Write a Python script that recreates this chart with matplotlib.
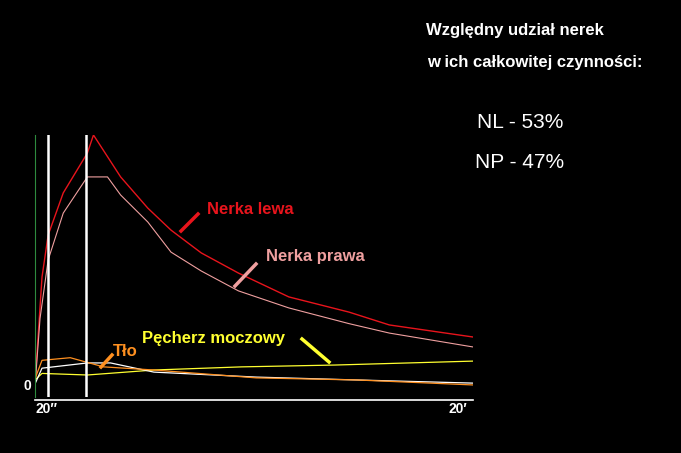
import matplotlib.pyplot as plt

W, H = 681, 453

# time in minutes, counts in arbitrary units
t_lewa = [0, 0.32, 0.6, 1.29, 2.39, 2.67, 3.91, 5.15, 6.21, 7.59, 9.29, 11.59, 14.34, 16.18, 20]
v_lewa = [5, 45.8, 61.8, 77.9, 93.1, 100, 84, 72.1, 63.7, 55, 47.3, 38.2, 32.4, 27.5, 22.9]
t_prawa = [0, 0.23, 0.6, 1.29, 2.39, 3.31, 3.91, 5.15, 6.21, 7.59, 9.29, 11.59, 14.34, 16.18, 20]
v_prawa = [4, 30, 52.3, 70.2, 84, 84, 77.1, 66.8, 55.3, 48.1, 40.5, 34, 28, 24.4, 19.1]
t_pecherz = [0, 0.32, 2.39, 5.43, 9.43, 13.7, 20]
v_pecherz = [6.5, 9, 8.4, 10.3, 11.5, 12.2, 13.7]
t_bg = [0, 0.32, 2.39, 3.45, 5.43, 10.1, 14.7, 20]
v_bg = [5, 11, 13, 13, 9.5, 7.6, 6.5, 5.3]
t_tlo = [0, 0.32, 1.61, 3.13, 5.43, 10.1, 14.7, 20]
v_tlo = [7, 14, 15, 11.5, 10.3, 7.3, 6.5, 4.6]
markers = [0.6, 2.34]

fig = plt.figure(figsize=(W / 100, H / 100), dpi=100, facecolor="black")
ax = fig.add_axes([35 / W, 1 - 397 / H, (473 - 35) / W, (397 - 135) / H])
ax.set_facecolor("black")
ax.set_xlim(0, 20)
ax.set_ylim(0, 100)
for s in ["top", "right", "bottom"]:
    ax.spines[s].set_visible(False)
ax.spines["left"].set_color("#2e8b3e")
ax.set_xticks([])
ax.set_yticks([])
ax.axhline(-1, color="white", lw=1.2, clip_on=False)

ax.plot(t_lewa, v_lewa, color="#e8141c", lw=1)
ax.plot(t_prawa, v_prawa, color="#f0a0a0", lw=0.8)
ax.plot(t_pecherz, v_pecherz, color="#ffff30", lw=0.9)
ax.plot(t_bg, v_bg, color="white", lw=0.9)
ax.plot(t_tlo, v_tlo, color="#ff9020", lw=0.9)
for m in markers:
    ax.axvline(m, color="white", lw=1.8)


def px(x, y, s, weight="bold", **kw):
    fig.text(x / W, 1 - y / H, s, family="Liberation Sans", fontweight=weight, **kw)


def seg(x0, y0, x1, y1, c):
    fig.add_artist(plt.Line2D([x0 / W, x1 / W], [1 - y0 / H, 1 - y1 / H], color=c, lw=2.5))


px(515, 30, "Względny udział nerek", color="white", fontsize=12, ha="center", va="center")
px(535, 63, "w ich całkowitej czynności:", color="white", fontsize=12, ha="center", va="center")
px(520, 122, "NL - 53%", weight="normal", color="white", fontsize=15, ha="center", va="center")
px(520, 163, "NP - 47%", weight="normal", color="white", fontsize=15, ha="center", va="center")

px(207, 209, "Nerka lewa", color="#e8141c", fontsize=12, va="center")
seg(181, 231, 198, 214, "#e8141c")
px(266, 257, "Nerka prawa", color="#f0a0a0", fontsize=12, va="center")
seg(235, 286, 256, 264, "#f0a0a0")
px(142, 338, "Pęcherz moczowy", color="#ffff30", fontsize=12, va="center")
seg(302, 339, 329, 362, "#ffff30")
px(113, 351, "Tło", color="#ff9020", fontsize=12, va="center")
seg(101, 367, 112, 355, "#ff9020")

px(27, 386, "0", color="white", fontsize=10, ha="center", va="center")
px(47, 409, "20″", color="white", fontsize=10, ha="center", va="center")
px(458, 409, "20′", color="white", fontsize=10, ha="center", va="center")

fig.savefig("out.png", dpi=100, facecolor="black")
